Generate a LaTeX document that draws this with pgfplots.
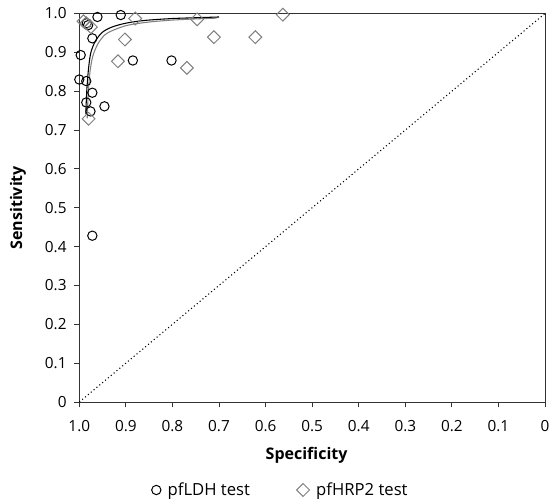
\documentclass[border=0pt]{standalone}
\usepackage{pgfplots}
\pgfplotsset{compat=1.18}
\usepackage{fontspec}
\setmainfont{Open Sans}
\begin{document}
\begin{tikzpicture}[x=1pt,y=1pt]
\useasboundingbox (-59.475,-74.25) rectangle (356.025,301.5);
\begin{axis}[
  at={(0,0)}, anchor=south west,
  scale only axis, width=349.3pt, height=291.4pt,
  xmin=0, xmax=1, ymin=0, ymax=1,
  x dir=reverse,
  clip=false,
  axis line style={line width=0.75pt, black!80},
  tick style={line width=0.75pt, black!80},
  tick align=outside,
  xtick pos=bottom, ytick pos=left,
  major tick length=4pt,
  xtick={0,0.1,0.2,0.3,0.4,0.5,0.6,0.7,0.8,0.9,1.0},
  xticklabels={0,0.1,0.2,0.3,0.4,0.5,0.6,0.7,0.8,0.9,1.0},
  ytick={0,0.1,0.2,0.3,0.4,0.5,0.6,0.7,0.8,0.9,1.0},
  yticklabels={0,0.1,0.2,0.3,0.4,0.5,0.6,0.7,0.8,0.9,1.0},
  tick label style={font=\fontsize{11.5}{13}\selectfont},
  xticklabel style={yshift=-6pt},
  yticklabel style={xshift=-2pt},
  xlabel={\textbf{Specificity}},
  ylabel={\textbf{Sensitivity}},
  label style={font=\fontsize{12}{14}\selectfont},
  xlabel style={at={(axis description cs:0.488,-0.1364)}, anchor=center},
  ylabel style={at={(axis description cs:-0.1316,0.5)}, anchor=center},
  legend columns=2,
  legend style={draw=none, fill=none, font=\fontsize{12.5}{14}\selectfont,
    at={(axis description cs:0.4330,-0.2265)}, anchor=center,
    /tikz/every odd column/.append style={column sep=3pt},
    /tikz/every even column/.append style={column sep=33pt}},
  legend cell align=left,
]
% diagonal
\addplot[black, dotted, line width=0.8pt, forget plot] coordinates {(1,0) (0,1)};
% SROC curves
\addplot[black!50, line width=0.8pt, smooth, forget plot] coordinates {
(0.983,0.73) (0.981,0.79) (0.977,0.85) (0.971,0.89) (0.960,0.922) (0.945,0.945)
(0.925,0.958) (0.895,0.970) (0.850,0.978) (0.800,0.983) (0.750,0.986) (0.705,0.988)};
\addplot[black, line width=0.8pt, smooth, forget plot] coordinates {
(0.986,0.74) (0.984,0.80) (0.980,0.86) (0.975,0.90) (0.965,0.930) (0.950,0.952)
(0.930,0.965) (0.900,0.975) (0.860,0.982) (0.800,0.987) (0.750,0.989) (0.700,0.991)};
% pfLDH
\addplot[only marks, mark=o, mark size=3.5pt, mark options={black, line width=0.75pt}] coordinates {
(0.961,0.991) (0.911,0.996) (0.981,0.970) (0.984,0.975) (0.972,0.936) (0.997,0.893)
(0.885,0.879) (0.802,0.879) (1.000,0.830) (0.985,0.826) (0.972,0.796) (0.985,0.771)
(0.946,0.761) (0.976,0.748) (0.972,0.428)};
\addlegendentry{pfLDH test}
% pfHRP2
\addplot[only marks, mark=square, mark size=3.4pt, mark options={black!50, line width=0.75pt, rotate=45}] coordinates {
(0.991,0.980) (0.985,0.975) (0.975,0.965) (0.880,0.987) (0.747,0.985) (0.563,0.997)
(0.902,0.933) (0.711,0.939) (0.622,0.939) (0.917,0.877) (0.769,0.860) (0.980,0.729)};
\addlegendentry{pfHRP2 test}
\end{axis}
\end{tikzpicture}
\end{document}
